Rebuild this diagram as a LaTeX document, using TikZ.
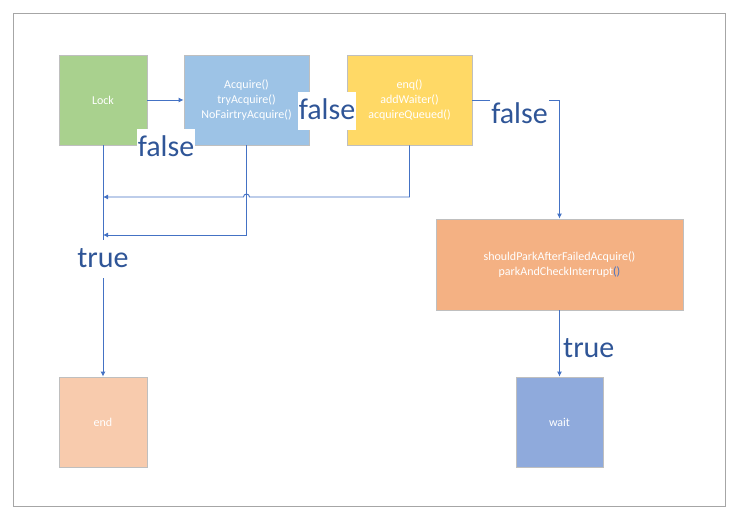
\documentclass[tikz,border=0pt]{standalone}
\usepackage{fontspec}
\setmainfont{Carlito}
\usetikzlibrary{arrows.meta,positioning,calc}
\definecolor{linkblue}{HTML}{4472C4}
\definecolor{labblue}{HTML}{2F5597}
\definecolor{lockgreen}{HTML}{A9D18E}
\definecolor{acqblue}{HTML}{9DC3E6}
\definecolor{enqyellow}{HTML}{FFD966}
\definecolor{parkorange}{HTML}{F4B183}
\definecolor{endpeach}{HTML}{F8CBAD}
\definecolor{waitblue}{HTML}{8FAADC}
\definecolor{edgegray}{HTML}{BFBFBF}

\begin{document}
\begin{tikzpicture}[
    x=1pt, y=-1pt,
    box/.style={draw=edgegray, line width=0.8pt, text=white, align=center,
      inner sep=0pt, font=\fontsize{12}{15}\selectfont},
    flow/.style={draw=linkblue, line width=0.9pt, -{Latex[length=5pt,width=5pt]}},
    lab/.style={text=labblue, fill=white, inner xsep=1pt, inner ysep=2pt,
      text height=26pt, text depth=8pt, font=\fontsize{30}{30}\selectfont}
  ]
  \useasboundingbox (0,0) rectangle (739,518);
  \draw[draw=black!35, line width=0.8pt] (13,13) rectangle (725,506);

  % steps
  \node[box, fill=lockgreen, minimum width=88pt, minimum height=90pt] (lock) at (103,100) {Lock};
  \node[box, fill=acqblue, minimum width=125pt, minimum height=90pt] (acq) at (246.5,100)
    {Acquire()\\tryAcquire()\\NoFairtryAcquire()};
  \node[box, fill=enqyellow, minimum width=125pt, minimum height=90pt] (enq) at (409.5,100)
    {enq()\\addWaiter()\\acquireQueued()};
  \node[box, fill=parkorange, minimum width=247pt, minimum height=91pt] (park) at (559.5,264.5)
    {shouldParkAfterFailedAcquire()\\parkAndCheckInterrupt{\color{linkblue}()}};
  \node[box, fill=endpeach, minimum width=88pt, minimum height=90pt] (end) at (103,422) {end};
  \node[box, fill=waitblue, minimum width=87pt, minimum height=90pt] (wait) at (559.5,422) {wait};

  % joins on the left trunk
  \coordinate (j1) at (103,197);
  \coordinate (j2) at (103,235);

  \draw[flow] (lock) -- (acq);
  \draw[flow] (lock) -- (end);
  \draw[flow] (acq.south) |- (j2);
  \draw[flow] (enq.south) |- ($(j1 -| acq.south)+(3pt,0)$)
    arc[start angle=0, end angle=180, radius=3pt] -- (j1);
  \draw[flow] (enq.east) -| (park.north);
  \draw[flow] (park) -- (wait);

  % labels
  \node[lab, anchor=base] (f1) at (166,157) {false};
  \node[lab, anchor=base] (f2) at (327,120) {false};
  \node[lab, anchor=base] (f3) at (519.5,124) {false};
  \node[lab, anchor=base] (t1) at (103,268) {true};
  \node[lab, anchor=base west] (t2) at (562,358) {true};
\end{tikzpicture}
\end{document}
